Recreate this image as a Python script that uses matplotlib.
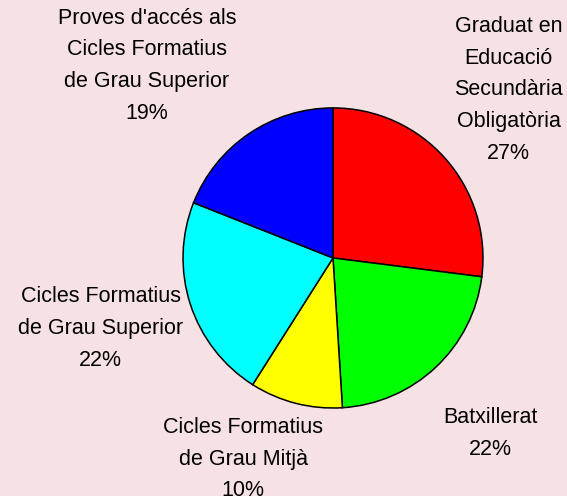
import matplotlib.pyplot as plt

# -----------------------------
# Data
# -----------------------------
labels = [
    "Graduat en\nEducació\nSecundària\nObligatòria",
    "Batxillerat",
    "Cicles Formatius\nde Grau Mitjà",
    "Cicles Formatius\nde Grau Superior",
    "Proves d'accés als\nCicles Formatius\nde Grau Superior",
]
shares = [27, 22, 10, 22, 19]
colors = ["#ff0000", "#00ff00", "#ffff00", "#00ffff", "#0000ff"]

# label anchor positions (axes data units, pie radius = 1)
label_xy = [(1.17, 1.12), (1.05, -1.17), (-0.60, -1.34), (-1.55, -0.47), (-1.24, 1.28)]

plt.rcParams["font.family"] = ["Liberation Sans", "DejaVu Sans"]

fig = plt.figure(figsize=(5.67, 4.96), dpi=100)
fig.patch.set_facecolor("#f6e1e5")

ax = fig.add_axes([0.3228, 0.1774, 0.529, 0.605])
ax.set_facecolor("none")
wedges, _ = ax.pie(
    shares,
    colors=colors,
    startangle=90,
    counterclock=False,
    radius=1,
    wedgeprops=dict(edgecolor="black", linewidth=1.1),
)
ax.set_xlim(-1, 1)
ax.set_ylim(-1, 1)
ax.set_aspect("auto")
ax.axis("off")

for lab, val, (x, y) in zip(labels, shares, label_xy):
    ax.text(x, y, f"{lab}\n{val}%", ha="center", va="center",
            multialignment="center", fontsize=15.5, linespacing=1.68,
            color="black", clip_on=False)

fig.savefig("out.png", dpi=100, facecolor=fig.get_facecolor())
